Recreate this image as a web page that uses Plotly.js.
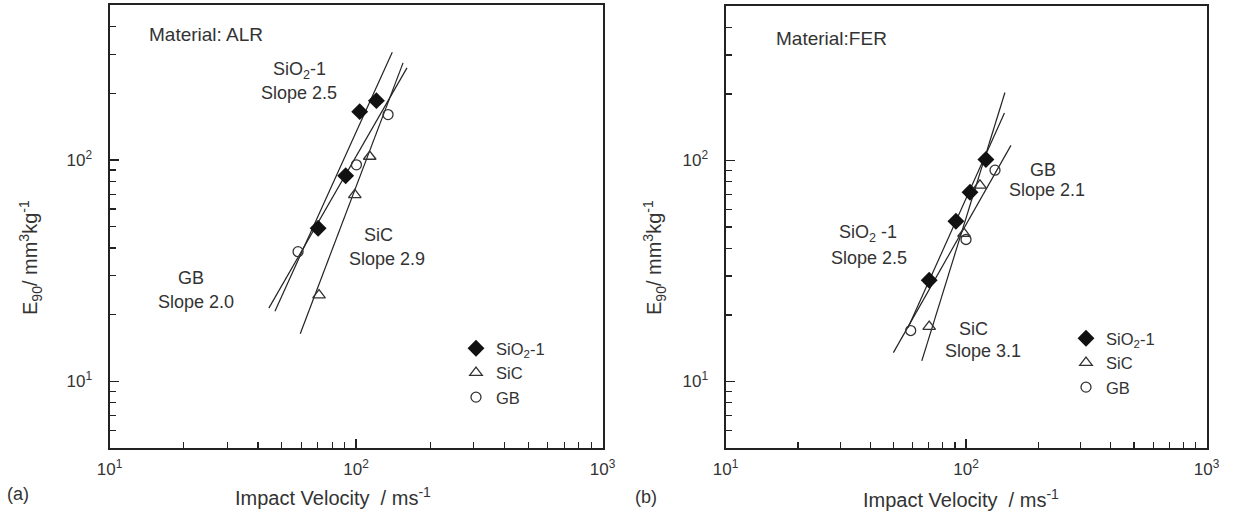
<!DOCTYPE html>
<html><head><meta charset="utf-8">
<script src="https://cdn.plot.ly/plotly-3.0.1.min.js"></script>
<style>html,body{margin:0;padding:0;background:#fff}#chart{width:1243px;height:516px}</style>
</head><body><div id="chart"></div>
<script>
// ---------- data ----------
// (a) Material: ALR
const alrSiO2Vel = [70.2, 90.8, 103.5, 121];
const alrSiO2Ero = [49.1, 84.7, 165, 185];
const alrSiCVel  = [70.8, 98.9, 113.7];
const alrSiCEro  = [24.5, 69.5, 103.5];
const alrGBVel   = [58.2, 100.4, 134.9];
const alrGBEro   = [38.5, 94.9, 160];
const alrSiO2FitVel = [46.9, 140.3];
const alrSiO2FitEro = [20.7, 306];
const alrSiCFitVel  = [59.4, 155.2];
const alrSiCFitEro  = [16.4, 274];
const alrGBFitVel   = [44.3, 161];
const alrGBFitEro   = [21.4, 260];
// (b) Material: FER
const ferSiO2Vel = [70.3, 90.8, 103.9, 121];
const ferSiO2Ero = [28.7, 53.1, 71.8, 101];
const ferSiCVel  = [70.3, 98.1, 114.3];
const ferSiCEro  = [17.7, 46.7, 77.1];
const ferGBVel   = [58.9, 100, 132];
const ferGBEro   = [17.0, 43.9, 90.4];
const ferSiO2FitVel = [57.4, 144.5];
const ferSiO2FitEro = [17.5, 164];
const ferSiCFitVel  = [65.5, 145.2];
const ferSiCFitEro  = [12.4, 203];
const ferGBFitVel   = [49.9, 153.8];
const ferGBFitEro   = [13.5, 117];

const seriesNames = ['SiO<sub>2</sub>-1', 'SiC', 'GB'];
const xMajor = [10, 100, 1000];
const xMajorText = ['10<sup>1</sup>', '10<sup>2</sup>', '10<sup>3</sup>'];
const xMinor = [20,30,40,50,60,70,80,90,200,300,400,500,600,700,800,900];
const yMajor = [10, 100];
const yMajorText = ['10<sup>1</sup>', '10<sup>2</sup>'];
const yMinor = [6,7,8,9,20,30,40,50,60,70,80,90,200,300,400];

// ---------- styling ----------
const FONT = '"Liberation Sans", Arial, Helvetica, sans-serif';
const INK = '#222';
const TXT = '#333';
const W = 1243, H = 516;
const px = v => v / W;
const py = v => 1 - v / H;

const mk = {
  SiO2: {symbol: 'diamond', size: 13, color: '#111', line: {width: 0}},
  SiC:  {symbol: 'triangle-up-open', size: 11, color: '#333', line: {width: 1.3, color: '#333'}},
  GB:   {symbol: 'circle-open', size: 10, color: '#333', line: {width: 1.3, color: '#333'}}
};

function pts(x, y, name, m, xa, ya, leg, grp) {
  return {x, y, name, type: 'scatter', mode: 'markers', marker: m, xaxis: xa, yaxis: ya,
          legend: leg, legendgroup: grp, showlegend: true, hoverinfo: 'skip'};
}
function fit(x, y, xa, ya) {
  return {x, y, type: 'scatter', mode: 'lines', line: {color: INK, width: 1.2},
          xaxis: xa, yaxis: ya, showlegend: false, hoverinfo: 'skip'};
}

const traces = [
  fit(alrSiO2FitVel, alrSiO2FitEro, 'x', 'y'),
  fit(alrSiCFitVel, alrSiCFitEro, 'x', 'y'),
  fit(alrGBFitVel, alrGBFitEro, 'x', 'y'),
  pts(alrSiO2Vel, alrSiO2Ero, seriesNames[0], mk.SiO2, 'x', 'y', 'legend', 'a1'),
  pts(alrSiCVel, alrSiCEro, seriesNames[1], mk.SiC, 'x', 'y', 'legend', 'a2'),
  pts(alrGBVel, alrGBEro, seriesNames[2], mk.GB, 'x', 'y', 'legend', 'a3'),
  fit(ferSiO2FitVel, ferSiO2FitEro, 'x2', 'y2'),
  fit(ferSiCFitVel, ferSiCFitEro, 'x2', 'y2'),
  fit(ferGBFitVel, ferGBFitEro, 'x2', 'y2'),
  pts(ferSiO2Vel, ferSiO2Ero, seriesNames[0], mk.SiO2, 'x2', 'y2', 'legend2', 'b1'),
  pts(ferSiCVel, ferSiCEro, seriesNames[1], mk.SiC, 'x2', 'y2', 'legend2', 'b2'),
  pts(ferGBVel, ferGBEro, seriesNames[2], mk.GB, 'x2', 'y2', 'legend2', 'b3')
];

function xax(domain, anchor) {
  return {type: 'log', domain, anchor, range: [1, 3], showline: true, mirror: true,
    linecolor: INK, linewidth: 2, ticks: 'inside', ticklen: 9, tickwidth: 1.5, tickcolor: INK,
    tickmode: 'array', tickvals: xMajor, ticktext: xMajorText, ticklabelstandoff: 5,
    tickfont: {family: FONT, size: 17, color: TXT}, showgrid: false, zeroline: false,
    minor: {ticks: 'inside', ticklen: 6, tickwidth: 1.2, tickcolor: INK, tickmode: 'array', tickvals: xMinor, showgrid: false},
    fixedrange: true};
}
function yax(domain, anchor) {
  return {type: 'log', domain, anchor, range: [Math.log10(5), Math.log10(500)], showline: true, mirror: true,
    linecolor: INK, linewidth: 2, ticks: 'inside', ticklen: 9, tickwidth: 1.5, tickcolor: INK,
    tickmode: 'array', tickvals: yMajor, ticktext: yMajorText, ticklabelstandoff: 12,
    tickfont: {family: FONT, size: 17, color: TXT}, showgrid: false, zeroline: false,
    minor: {ticks: 'inside', ticklen: 6, tickwidth: 1.2, tickcolor: INK, tickmode: 'array', tickvals: yMinor, showgrid: false},
    fixedrange: true};
}

function ann(text, x, y, size, xanchor, extra) {
  return Object.assign({text, x: px(x), y: py(y), xref: 'paper', yref: 'paper', showarrow: false,
    xanchor: xanchor || 'center', yanchor: 'middle', font: {family: FONT, size: size || 15, color: TXT}}, extra || {});
}

const annotations = [
  ann('Material: ALR', 147, 34, 19, 'left'),
  ann('SiO<sub>2</sub>-1', 299, 70, 18),
  ann('Slope 2.5', 299, 93, 18),
  ann('SiC', 379, 235, 18),
  ann('Slope 2.9', 387, 259, 18),
  ann('GB', 191, 278, 18),
  ann('Slope 2.0', 196, 302, 18),
  ann('(a)', 5, 494, 18, 'left'),
  ann('Impact Velocity  / ms<sup>-1</sup>', 333, 496, 20),
  ann('E<sub>90</sub>/ mm<sup>3</sup>kg<sup>-1</sup>', 30, 258, 20, 'center', {textangle: -90}),
  ann('Material:FER', 774, 38, 19, 'left'),
  ann('GB', 1043, 170, 18),
  ann('Slope 2.1', 1047, 190, 18),
  ann('SiO<sub>2</sub> -1', 868, 233, 18),
  ann('Slope 2.5', 869, 258, 18),
  ann('SiC', 973, 329, 18),
  ann('Slope 3.1', 983, 351, 18),
  ann('(b)', 633, 497, 18, 'left'),
  ann('Impact Velocity  / ms<sup>-1</sup>', 961, 498, 20),
  ann('E<sub>90</sub>/ mm<sup>3</sup>kg<sup>-1</sup>', 654, 258, 20, 'center', {textangle: -90})
];

const legendStyle = {font: {family: FONT, size: 16.5, color: TXT}, bgcolor: 'rgba(0,0,0,0)', borderwidth: 0,
  xanchor: 'left', yanchor: 'top', traceorder: 'grouped', tracegroupgap: 0, itemclick: false, itemdoubleclick: false};

const layout = {
  width: W, height: H, margin: {l: 0, r: 0, t: 0, b: 0},
  paper_bgcolor: '#fff', plot_bgcolor: '#fff',
  showlegend: true,
  xaxis: xax([px(109.5), px(602.5)], 'y'),
  yaxis: yax([py(448), py(5)], 'x'),
  xaxis2: xax([px(725.5), px(1206.5)], 'y2'),
  yaxis2: yax([py(448), py(6)], 'x2'),
  legend: Object.assign({x: px(456), y: py(331)}, legendStyle),
  legend2: Object.assign({x: px(1066), y: py(321)}, legendStyle),
  annotations
};

Plotly.newPlot('chart', traces, layout, {staticPlot: true, displayModeBar: false});
</script></body></html>
